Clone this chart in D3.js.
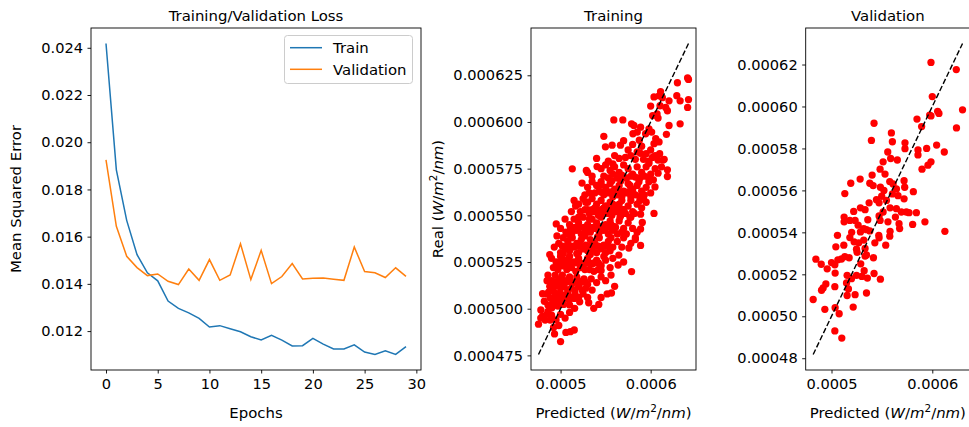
<!DOCTYPE html>
<html><head><meta charset="utf-8">
<script src="https://cdn.jsdelivr.net/npm/d3@7"></script>
<style>
body{margin:0;background:#fff}
svg{display:block}
text{font-family:"DejaVu Sans",sans-serif;fill:#000}
</style>
</head><body>
<svg id="c" width="969" height="427"></svg>
<script>
// ---------------- DATA ----------------
const epochs = [0,1,2,3,4,5,6,7,8,9,10,11,12,13,14,15,16,17,18,19,20,21,22,23,24,25,26,27,28,29];
const trainLoss = [0.02418,0.01883,0.01669,0.01524,0.01447,0.01413,0.01327,0.01296,0.01277,0.01254,
  0.01217,0.01223,0.01210,0.01197,0.01176,0.01162,0.01182,0.01162,0.01137,0.01138,
  0.01169,0.01145,0.01124,0.01124,0.01142,0.01111,0.01101,0.01117,0.01101,0.01134];
const valLoss = [0.01925,0.01644,0.01517,0.01469,0.01435,0.01442,0.01411,0.01397,0.01463,0.01415,
  0.01503,0.01415,0.01438,0.01570,0.01418,0.01542,0.01401,0.01431,0.01486,0.01421,
  0.01424,0.01425,0.01420,0.01415,0.01556,0.01452,0.01447,0.01427,0.01468,0.01432];
const seriesNames = ["Train","Validation"];
const lossXTicks = [0,5,10,15,20,25,30];
const lossYTicks = [0.012,0.014,0.016,0.018,0.020,0.022,0.024];

// [predicted, real] training set
const trainPairs = [
 [641e-6,623.6e-6],[642e-6,622.8e-6],[629.7e-6,621e-6],[611e-6,616.2e-6],[609.3e-6,614e-6],[603.7e-6,613.4e-6],[613e-6,613e-6],
 [620.4e-6,611.3e-6],[629e-6,614.1e-6],[632.7e-6,611.3e-6],[642e-6,612e-6],[641e-6,607.8e-6],[600e-6,608.5e-6],[610.4e-6,608.7e-6],
 [616.7e-6,607.8e-6],[618.6e-6,606e-6],[607.1e-6,604.3e-6],[602.2e-6,603.4e-6],[608.2e-6,602.1e-6],[620.4e-6,598.1e-6],[632.7e-6,599e-6],
 [617.5e-6,593.4e-6],[601.1e-6,594.6e-6],[605.6e-6,591.1e-6],[609.3e-6,589.3e-6],[603.7e-6,588.4e-6],[598.1e-6,596.3e-6],[594.4e-6,593.7e-6],
 [588.8e-6,597.2e-6],[581.4e-6,598.1e-6],[585.1e-6,594.6e-6],
 [548e-6,592.3e-6],[549.8e-6,586.7e-6],[557.2e-6,587.6e-6],[566.5e-6,587.6e-6],[559.1e-6,601.1e-6],[569.1e-6,601.1e-6],[578.8e-6,599e-6],
 [580.3e-6,593.7e-6],[587.4e-6,590.2e-6],[570e-6,590e-6],[575e-6,585e-6],[580e-6,588e-6],[585e-6,584e-6],[590e-6,587e-6],[595e-6,583e-6],
 [600e-6,585e-6],[605e-6,582e-6],[610e-6,583e-6],[615e-6,580e-6],[588.8e-6,583.2e-6],[560e-6,582e-6],[565e-6,580.5e-6],[572e-6,581e-6],
 [578e-6,582e-6],[583e-6,580e-6],[592e-6,580e-6],[598e-6,579e-6],[602e-6,581e-6],[608.2e-6,579.6e-6],[613.7e-6,579.6e-6],[540e-6,580.5e-6],
 [553e-6,579e-6],[558e-6,577.5e-6],
 [540.5e-6,576.1e-6],[513e-6,574.9e-6],[528.6e-6,574e-6],[545e-6,575e-6],[550e-6,577e-6],[555e-6,574e-6],[560e-6,576e-6],[565e-6,573e-6],
 [570e-6,577e-6],[575e-6,575e-6],[580e-6,572e-6],[585e-6,576e-6],[590e-6,573e-6],[595e-6,576e-6],[600e-6,572e-6],[605e-6,575e-6],
 [598.1e-6,577.9e-6],[618.6e-6,574.4e-6],[618.6e-6,570.8e-6],[608.2e-6,572.6e-6],[612e-6,576e-6],[548e-6,571e-6],[553e-6,570e-6],
 [558e-6,572e-6],[563e-6,570e-6],[568e-6,571.5e-6],[573e-6,570e-6],[578e-6,571e-6],[583e-6,570.5e-6],[588e-6,570e-6],[593e-6,571e-6],
 [598e-6,570e-6],[603e-6,569e-6],[535e-6,571e-6],[530e-6,573e-6],
 [523.8e-6,567.3e-6],[604.8e-6,565.2e-6],[530e-6,565e-6],[535e-6,568e-6],[540e-6,566e-6],[545e-6,568e-6],[550e-6,565e-6],[555e-6,567e-6],
 [560e-6,564e-6],[565e-6,566e-6],[570e-6,563e-6],[575e-6,567e-6],[580e-6,564e-6],[585e-6,566e-6],[590e-6,563e-6],[595e-6,565e-6],
 [600e-6,562e-6],[538e-6,562e-6],[543e-6,563e-6],[548e-6,561e-6],[553e-6,562e-6],[558e-6,560e-6],[563e-6,561e-6],[568e-6,560e-6],
 [573e-6,562e-6],[578e-6,560e-6],[583e-6,561e-6],[588e-6,560e-6],[593e-6,561e-6],[598e-6,568e-6],[527e-6,561e-6],[532e-6,562e-6],
 [545e-6,566.5e-6],[557e-6,568.5e-6],[567e-6,568.5e-6],[577e-6,566e-6],[587e-6,568e-6],
 [545e-6,562.5e-6],[550e-6,562.5e-6],[555e-6,562.5e-6],[560e-6,562.5e-6],[565e-6,562.5e-6],[570e-6,562.5e-6],[575e-6,562.5e-6],[580e-6,562.5e-6],
 [516.7e-6,555e-6],[603.7e-6,551e-6],[588.8e-6,550.6e-6],[515e-6,558e-6],[520e-6,556e-6],[525e-6,559e-6],[530e-6,557e-6],[535e-6,559e-6],
 [540e-6,556e-6],[545e-6,558e-6],[550e-6,555e-6],[555e-6,557e-6],[560e-6,554e-6],[565e-6,556e-6],[570e-6,553e-6],[575e-6,555e-6],
 [580e-6,552e-6],[585e-6,556e-6],[590e-6,554e-6],[595e-6,557e-6],[522e-6,552e-6],[527e-6,553e-6],[532e-6,551e-6],[537e-6,552e-6],
 [542e-6,550e-6],[547e-6,552e-6],[552e-6,551e-6],[557e-6,550e-6],[562e-6,552e-6],[567e-6,550e-6],[572e-6,551e-6],[577e-6,549e-6],
 [582e-6,551e-6],[528e-6,557e-6],[538e-6,554e-6],[548e-6,554e-6],[558e-6,556e-6],[568e-6,558e-6],[578e-6,558e-6],[588e-6,558e-6],
 [512e-6,552e-6],[592e-6,559e-6],
 [530e-6,553e-6],[535e-6,553e-6],[540e-6,553e-6],[545e-6,553e-6],[550e-6,553e-6],[555e-6,553e-6],[560e-6,553e-6],[565e-6,553e-6],[570e-6,553e-6],
 [495.2e-6,545.4e-6],[590.7e-6,546.2e-6],[588.8e-6,542.7e-6],[505e-6,548e-6],[510e-6,545e-6],[515e-6,548e-6],[520e-6,546e-6],[525e-6,549e-6],
 [530e-6,545e-6],[535e-6,548e-6],[540e-6,546e-6],[545e-6,549e-6],[550e-6,545e-6],[555e-6,547e-6],[560e-6,544e-6],[565e-6,547e-6],
 [570e-6,543e-6],[575e-6,546e-6],[580e-6,543e-6],[585e-6,541e-6],[513e-6,541e-6],[518e-6,542e-6],[523e-6,540e-6],[528e-6,542e-6],
 [533e-6,541e-6],[538e-6,543e-6],[543e-6,541e-6],[548e-6,542e-6],[553e-6,540e-6],[558e-6,542e-6],[563e-6,540e-6],[568e-6,541e-6],
 [573e-6,540e-6],[583e-6,538e-6],[500e-6,543e-6],[508e-6,540e-6],[520e-6,549e-6],[532e-6,548e-6],[544e-6,544e-6],[556e-6,545e-6],
 [566e-6,549e-6],[578e-6,549e-6],[506e-6,541e-6],
 [511e-6,543.5e-6],[516e-6,543.5e-6],[521e-6,543.5e-6],[526e-6,543.5e-6],[531e-6,543.5e-6],[536e-6,543.5e-6],[541e-6,543.5e-6],
 [546e-6,543.5e-6],[551e-6,543.5e-6],[556e-6,543.5e-6],[561e-6,543.5e-6],
 [575.8e-6,532.5e-6],[588.8e-6,533.9e-6],[583e-6,537e-6],[498e-6,535e-6],[503e-6,538e-6],[508e-6,536e-6],[513e-6,538e-6],[518e-6,535e-6],
 [523e-6,537e-6],[528e-6,534e-6],[533e-6,537e-6],[538e-6,535e-6],[543e-6,538e-6],[548e-6,534e-6],[553e-6,536e-6],[558e-6,533e-6],
 [563e-6,536e-6],[568e-6,533e-6],[505e-6,532e-6],[510e-6,531e-6],[515e-6,533e-6],[520e-6,530e-6],[525e-6,532e-6],[530e-6,531e-6],
 [535e-6,532e-6],[540e-6,530e-6],[545e-6,532e-6],[550e-6,530e-6],[555e-6,531e-6],[500e-6,530e-6],[570e-6,538e-6],[578e-6,535e-6],
 [496e-6,539e-6],[511e-6,539e-6],[527e-6,539e-6],[541e-6,538.5e-6],[556e-6,538e-6],[493e-6,533e-6],
 [502e-6,533.5e-6],[507e-6,533.5e-6],[512e-6,533.5e-6],[517e-6,533.5e-6],[522e-6,533.5e-6],[527e-6,533.5e-6],[532e-6,533.5e-6],
 [537e-6,533.5e-6],[542e-6,533.5e-6],[547e-6,533.5e-6],[552e-6,533.5e-6],
 [564.7e-6,528.7e-6],[563.9e-6,523.4e-6],[578.8e-6,519.9e-6],[490e-6,527e-6],[495e-6,525e-6],[500e-6,528e-6],[505e-6,526e-6],[510e-6,528e-6],
 [515e-6,525e-6],[520e-6,527e-6],[525e-6,524e-6],[530e-6,527e-6],[535e-6,524e-6],[540e-6,526e-6],[545e-6,523e-6],[550e-6,526e-6],
 [555e-6,522e-6],[492e-6,522e-6],[497e-6,521e-6],[502e-6,523e-6],[507e-6,521e-6],[512e-6,522e-6],[517e-6,520e-6],[522e-6,522e-6],
 [527e-6,521e-6],[532e-6,521e-6],[537e-6,520e-6],[542e-6,521e-6],[548e-6,528e-6],[558e-6,527e-6],[570e-6,525e-6],[545e-6,520.5e-6],
 [488e-6,529e-6],[503e-6,529.5e-6],[518e-6,529.5e-6],[533e-6,529e-6],
 [497e-6,524.5e-6],[502e-6,524.5e-6],[507e-6,524.5e-6],[512e-6,524.5e-6],[517e-6,524.5e-6],[522e-6,524.5e-6],[527e-6,524.5e-6],
 [532e-6,524.5e-6],[537e-6,524.5e-6],[542e-6,524.5e-6],
 [486e-6,518e-6],[490e-6,515e-6],[494e-6,518e-6],[498e-6,516e-6],[502e-6,518e-6],[506e-6,515e-6],[510e-6,517e-6],[514e-6,514e-6],
 [518e-6,517e-6],[522e-6,514e-6],[526e-6,516e-6],[530e-6,513e-6],[534e-6,516e-6],[540e-6,514e-6],[545e-6,517e-6],[550e-6,515e-6],
 [556e-6,518e-6],[488e-6,512e-6],[492e-6,511e-6],[496e-6,513e-6],[500e-6,511e-6],[504e-6,512e-6],[508e-6,510e-6],[512e-6,511e-6],
 [516e-6,510e-6],[520e-6,512e-6],[524e-6,510e-6],[528e-6,511e-6],[535e-6,510e-6],[485e-6,515e-6],[560e-6,512e-6],
 [492e-6,514.5e-6],[497e-6,514.5e-6],[502e-6,514.5e-6],[507e-6,514.5e-6],[512e-6,514.5e-6],[517e-6,514.5e-6],[522e-6,514.5e-6],[527e-6,514.5e-6],
 [484.8e-6,507.9e-6],[488.5e-6,505.8e-6],[494.1e-6,508.4e-6],[490.3e-6,500.5e-6],[497e-6,501.4e-6],[503.3e-6,502.3e-6],[508.9e-6,504.9e-6],
 [515.6e-6,500.2e-6],[521.2e-6,503.7e-6],[531.2e-6,503.2e-6],[536.8e-6,500.2e-6],[542.4e-6,502.3e-6],[551.7e-6,507.9e-6],[556.5e-6,508.4e-6],
 [478.1e-6,499.3e-6],[482e-6,504e-6],[486e-6,502e-6],[492e-6,504e-6],[496e-6,506e-6],[500e-6,504e-6],[504e-6,507e-6],[508e-6,509e-6],
 [512e-6,506e-6],[516e-6,508e-6],[520e-6,506e-6],[525e-6,508e-6],[530e-6,506e-6],[480e-6,508e-6],[494e-6,502e-6],[500e-6,508e-6],
 [510e-6,502e-6],[487e-6,509e-6],[545e-6,506e-6],
 [490e-6,505.5e-6],[495e-6,505.5e-6],[500e-6,505.5e-6],[505e-6,505.5e-6],[510e-6,505.5e-6],[515e-6,505.5e-6],
 [475.5e-6,491.7e-6],[482.9e-6,493.9e-6],[488.5e-6,493.9e-6],[492.2e-6,490e-6],[493.3e-6,486.5e-6],[500e-6,482.4e-6],[505.9e-6,487.3e-6],
 [510.8e-6,487.7e-6],[515.2e-6,488.6e-6],[480e-6,496e-6],[485e-6,497e-6],[490e-6,496.5e-6],[495e-6,494e-6],[500e-6,497e-6],[505e-6,495e-6],
 [498e-6,491e-6],[486e-6,498.5e-6],[510e-6,498e-6],[478e-6,495e-6]
];

// [predicted, real] validation set
const valPairs = [
 [598.7e-6,621e-6],[623.8e-6,617.6e-6],[600e-6,604.7e-6],[630e-6,598.4e-6],[605.3e-6,597.7e-6],[606.6e-6,596.7e-6],[597.4e-6,595.9e-6],
 [598.7e-6,595.5e-6],[584.8e-6,594e-6],[624e-6,589.8e-6],[589.4e-6,590.4e-6],[542.2e-6,592e-6],[559.4e-6,587.4e-6],[539.6e-6,583.8e-6],
 [560.4e-6,583.2e-6],[572.9e-6,582.7e-6],[604.3e-6,581.6e-6],[594.4e-6,580e-6],[572.9e-6,579.9e-6],[585.8e-6,579.3e-6],[585.8e-6,576.9e-6],
 [611.9e-6,578.3e-6],[555.8e-6,578.3e-6],[558.7e-6,575.2e-6],[565.3e-6,574.5e-6],[551.2e-6,573.6e-6],[598.7e-6,573.6e-6],[595.7e-6,572e-6],
 [589.8e-6,570.1e-6],[548.2e-6,570.1e-6],[553.1e-6,567.8e-6],[540.3e-6,567.3e-6],[528.4e-6,565.4e-6],[519.1e-6,563.4e-6],[538e-6,563.4e-6],
 [541.3e-6,562.3e-6],[548.5e-6,561.5e-6],[513.2e-6,558.5e-6],[557.8e-6,564.2e-6],[561.1e-6,563.1e-6],[572e-6,564.6e-6],[564.4e-6,560.7e-6],
 [581.2e-6,559.4e-6],[572.6e-6,561.5e-6],[566e-6,557.5e-6],[572e-6,556e-6],[560.4e-6,558.3e-6],[549.8e-6,557.2e-6],[544.6e-6,555.6e-6],
 [537.3e-6,554.1e-6],[547.2e-6,554.1e-6],[554.5e-6,555.2e-6],[533.3e-6,550.8e-6],[528.7e-6,551.7e-6],[522e-6,550e-6],[558.1e-6,551.7e-6],
 [564.4e-6,551.3e-6],[551.2e-6,549.7e-6],[569.3e-6,549.7e-6],[574.3e-6,549.7e-6],[584.2e-6,549.4e-6],[576.9e-6,549.4e-6],[547.2e-6,547.8e-6],
 [563.4e-6,547.3e-6],[512.5e-6,547.3e-6],[512.5e-6,545e-6],[518.2e-6,545.7e-6],[523.4e-6,545.7e-6],[548.2e-6,545.7e-6],[592.7e-6,545e-6],
 [580.5e-6,543.8e-6],[567e-6,544.1e-6],[567.6e-6,541.8e-6],[526.4e-6,543.4e-6],[532e-6,541.8e-6],[528.7e-6,540.2e-6],[534.7e-6,541.3e-6],
 [538e-6,540.7e-6],[558.1e-6,540.5e-6],[612.5e-6,540.5e-6],[518.2e-6,537.5e-6],[546.9e-6,538.6e-6],[547.2e-6,537.4e-6],[557.8e-6,538.2e-6],
 [505.9e-6,538.6e-6],[522.4e-6,535.5e-6],[527e-6,535e-6],[532e-6,536.3e-6],[533.3e-6,532.3e-6],[504.3e-6,533.1e-6],[512.2e-6,533.9e-6],
 [553.8e-6,533.9e-6],[524.8e-6,532e-6],[525.4e-6,530.5e-6],[533.3e-6,528.7e-6],[541.6e-6,527.9e-6],[534.7e-6,529.2e-6],[517.5e-6,527.9e-6],
 [513.2e-6,528.4e-6],[509.9e-6,527.3e-6],[506.3e-6,526.9e-6],[500e-6,525.6e-6],[503.3e-6,524.5e-6],[489.8e-6,524.8e-6],[484.5e-6,527.2e-6],
 [503.6e-6,520.6e-6],[515.5e-6,519.5e-6],[524.8e-6,519.5e-6],[530.1e-6,519e-6],[532.4e-6,521.7e-6],[535.6e-6,518.2e-6],[542.2e-6,520.4e-6],
 [548.5e-6,517.7e-6],[519.8e-6,517.9e-6],[495.7e-6,522.6e-6],[514.9e-6,515.9e-6],[494.4e-6,515.4e-6],[491.7e-6,513.5e-6],[490.1e-6,512.4e-6],
 [503.3e-6,514.1e-6],[516.8e-6,513e-6],[515.5e-6,509.9e-6],[523.4e-6,510.3e-6],[534.7e-6,511.1e-6],[481.8e-6,508e-6],[493.4e-6,503.3e-6],
 [503.6e-6,504.1e-6],[507.6e-6,501.2e-6],[521.5e-6,504.4e-6],[503.3e-6,493e-6],[510.2e-6,489.6e-6],
 [552e-6,560e-6],[556e-6,545e-6],[536e-6,546e-6],[543e-6,535e-6],[529e-6,525e-6],[520e-6,540e-6]
];

const trainYTicks = [0.000475,0.0005,0.000525,0.00055,0.000575,0.0006,0.000625];
const valYTicks = [0.00048,0.0005,0.00052,0.00054,0.00056,0.00058,0.0006,0.00062];
const scatterXTicks = [0.0005,0.0006];
const titles = ["Training/Validation Loss","Training","Validation"];

// ---------------- LAYOUT ----------------
const FS = 14.6;   // tick labels
const FL = 14.9;   // titles, axis labels, legend
const T = 28, B = 370;
const panels = [{x0:91,x1:421},{x0:531,x1:696},{x0:805.7,x1:970}];
const colors = ["#1f77b4","#ff7f0e"];
const svg = d3.select("#c");

function pad(ext){const d=(ext[1]-ext[0])*0.05;return [ext[0]-d,ext[1]+d];}

function styleAxis(g){
  g.select(".domain").remove();
  g.selectAll(".tick line").attr("stroke","#000").attr("stroke-width",0.9);
  g.selectAll(".tick text").attr("font-size",FS).attr("font-family","DejaVu Sans").attr("fill","#000");
}
function frame(p){
  svg.append("rect").attr("x",p.x0).attr("y",T).attr("width",p.x1-p.x0).attr("height",B-T)
    .attr("fill","none").attr("stroke","#000").attr("stroke-width",0.9);
}
function title(p,t){
  svg.append("text").attr("x",(p.x0+p.x1)/2).attr("y",21).attr("text-anchor","middle").attr("font-size",FL).text(t);
}
function unitsLabel(sel,prefix){
  sel.append("tspan").text(prefix+"(");
  sel.append("tspan").attr("font-style","italic").text("W");
  sel.append("tspan").text("/");
  sel.append("tspan").attr("font-style","italic").text("m");
  sel.append("tspan").attr("font-size",FL*0.7).attr("dy",-6).text("2");
  sel.append("tspan").attr("dy",6).text("/");
  sel.append("tspan").attr("font-style","italic").text("nm");
  sel.append("tspan").text(")");
}

// ---------------- PANEL 1: LOSS ----------------
{
  const p = panels[0];
  const x = d3.scaleLinear().domain(pad(d3.extent(epochs))).range([p.x0,p.x1]);
  const y = d3.scaleLinear().domain(pad(d3.extent(trainLoss.concat(valLoss)))).range([B,T]);
  const gx = svg.append("g").attr("transform",`translate(0,${B})`)
    .call(d3.axisBottom(x).tickValues(lossXTicks).tickFormat(d3.format("d")).tickSize(3.5).tickPadding(5));
  styleAxis(gx);
  const gy = svg.append("g").attr("transform",`translate(${p.x0},0)`)
    .call(d3.axisLeft(y).tickValues(lossYTicks).tickFormat(d3.format(".3f")).tickSize(3.5).tickPadding(4.5));
  styleAxis(gy);
  const line = d3.line().x((d,i)=>x(epochs[i])).y(d=>y(d));
  [trainLoss,valLoss].forEach((s,k)=>{
    svg.append("path").attr("d",line(s)).attr("fill","none").attr("stroke",colors[k]).attr("stroke-width",1.5);
  });
  frame(p); title(p,titles[0]);
  // legend
  const lg = svg.append("g");
  lg.append("rect").attr("x",284.5).attr("y",35.5).attr("width",128).attr("height",48).attr("rx",3)
    .attr("fill","#fff").attr("fill-opacity",0.8).attr("stroke","#ccc").attr("stroke-width",1);
  seriesNames.forEach((n,k)=>{
    const yy = 47.7 + k*21.6;
    lg.append("line").attr("x1",290).attr("x2",322).attr("y1",yy).attr("y2",yy).attr("stroke",colors[k]).attr("stroke-width",1.5);
    lg.append("text").attr("x",333).attr("y",yy+5.3).attr("font-size",FL).text(n);
  });
  svg.append("text").attr("x",(p.x0+p.x1)/2).attr("y",418).attr("text-anchor","middle").attr("font-size",FL).text("Epochs");
  svg.append("text").attr("transform",`translate(21,${(T+B)/2}) rotate(-90)`).attr("text-anchor","middle").attr("font-size",FL).text("Mean Squared Error");
}

// ---------------- SCATTER PANELS ----------------
function scatter(p,pairs,yTicks,yFmt,ttl,ylab){
  const pe = d3.extent(pairs,d=>d[0]);
  const re = d3.extent(pairs,d=>d[1]);
  const x = d3.scaleLinear().domain(pad(pe)).range([p.x0,p.x1]);
  const y = d3.scaleLinear().domain(pad([Math.min(pe[0],re[0]),Math.max(pe[1],re[1])])).range([B,T]);
  const gx = svg.append("g").attr("transform",`translate(0,${B})`)
    .call(d3.axisBottom(x).tickValues(scatterXTicks).tickFormat(d3.format(".4f")).tickSize(3.5).tickPadding(5));
  styleAxis(gx);
  const gy = svg.append("g").attr("transform",`translate(${p.x0},0)`)
    .call(d3.axisLeft(y).tickValues(yTicks).tickFormat(d3.format(yFmt)).tickSize(3.5).tickPadding(4.5));
  styleAxis(gy);
  svg.append("g").selectAll("circle").data(pairs).join("circle")
    .attr("cx",d=>x(d[0])).attr("cy",d=>y(d[1])).attr("r",3.65).attr("fill","#ff0000");
  svg.append("line").attr("x1",x(pe[0])).attr("y1",y(pe[0])).attr("x2",x(pe[1])).attr("y2",y(pe[1]))
    .attr("stroke","#000").attr("stroke-width",1.4).attr("stroke-dasharray","5.5,2.4");
  frame(p); title(p,ttl);
  const xl = svg.append("text").attr("x",(p.x0+p.x1)/2).attr("y",418).attr("text-anchor","middle").attr("font-size",FL);
  unitsLabel(xl,"Predicted ");
  if(ylab){
    const yl = svg.append("text").attr("transform",`translate(443,${(T+B)/2}) rotate(-90)`).attr("text-anchor","middle").attr("font-size",FL);
    unitsLabel(yl,"Real ");
  }
}
scatter(panels[1],trainPairs,trainYTicks,".6f",titles[1],true);
scatter(panels[2],valPairs,valYTicks,".5f",titles[2],false);
</script>
</body></html>
